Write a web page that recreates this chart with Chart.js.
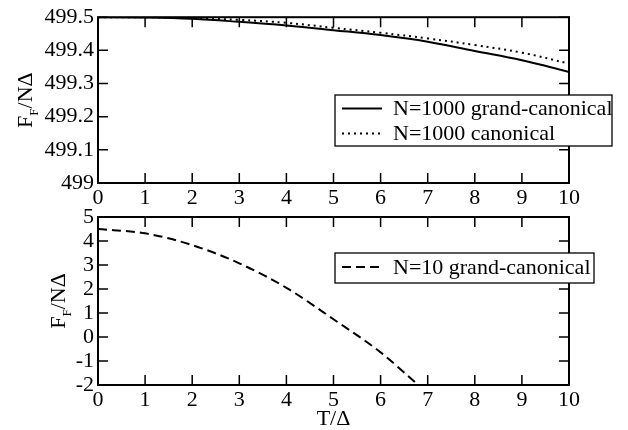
<!DOCTYPE html>
<html lang="en">
<head>
<meta charset="UTF-8">
<title>Free energy per particle</title>
<style>
    body {
        margin: 0;
        background: #fff;
    }
    .wrap {
        position: relative;
        width: 628px;
        height: 430px;
        overflow: hidden;
    }
    canvas {
        position: absolute;
        left: 0;
    }
    #topChart { top: 0; }
    #bottomChart { top: 195px; }
</style>
<script src="https://cdn.jsdelivr.net/npm/chart.js"></script>
</head>
<body>
<div class="wrap">
    <canvas id="topChart" width="628" height="215"></canvas>
    <canvas id="bottomChart" width="628" height="235"></canvas>
</div>
<script>
// values
const temps = [0, 1, 2, 3, 4, 5, 6, 7, 8, 9, 10];
const grandCanonical1000 = [499.5, 499.499, 499.495, 499.486, 499.475, 499.461, 499.446, 499.426, 499.398, 499.37, 499.335];
const canonical1000 = [499.5, 499.5, 499.497, 499.492, 499.483, 499.468, 499.453, 499.436, 499.416, 499.393, 499.36];
const tempsN10 = [0, 1, 2, 3, 4, 5, 6, 6.8];
const grandCanonical10 = [4.5, 4.32, 3.83, 3.07, 2.05, 0.74, -0.64, -2.0];

const labelsTop = ['N=1000 grand-canonical', 'N=1000 canonical'];
const labelsBottom = ['N=10 grand-canonical'];
const xTitle = 'T/\u0394';

const FONT = "'Liberation Serif', 'Times New Roman', serif";

function pairs(xs, ys) {
    return xs.map((x, i) => ({x: x, y: ys[i]}));
}

function fmt(v) {
    return String(Number(v.toFixed(1)));
}

// frame, inward ticks, legend box and the y title with its subscript
const decorPlugin = {
    id: 'decor',
    afterDatasetsDraw(chart, args, opts) {
        const ctx = chart.ctx;
        const a = chart.chartArea;
        const xs = chart.scales.x;
        const ys = chart.scales.y;
        ctx.save();
        ctx.strokeStyle = '#000';
        ctx.lineWidth = 1.5;
        ctx.setLineDash([]);
        ctx.beginPath();
        xs.ticks.forEach(t => {
            const px = xs.getPixelForValue(t.value);
            ctx.moveTo(px, a.bottom); ctx.lineTo(px, a.bottom - 10);
            ctx.moveTo(px, a.top); ctx.lineTo(px, a.top + 10);
        });
        ys.ticks.forEach(t => {
            const py = ys.getPixelForValue(t.value);
            ctx.moveTo(a.left, py); ctx.lineTo(a.left + 10, py);
            ctx.moveTo(a.right, py); ctx.lineTo(a.right - 10, py);
        });
        ctx.stroke();
        ctx.lineWidth = 2;
        ctx.strokeRect(a.left, a.top, a.right - a.left, a.bottom - a.top);

        // legend
        const b = opts.box;
        ctx.fillStyle = '#fff';
        ctx.fillRect(b[0], b[1], b[2], b[3]);
        ctx.lineWidth = 1.3;
        ctx.strokeRect(b[0], b[1], b[2], b[3]);
        ctx.font = '22px ' + FONT;
        ctx.fillStyle = '#000';
        ctx.textBaseline = 'alphabetic';
        ctx.textAlign = 'left';
        chart.data.datasets.forEach((ds, i) => {
            const ly = opts.rows[i];
            ctx.lineWidth = ds.borderWidth;
            ctx.setLineDash(ds.borderDash || []);
            ctx.beginPath();
            ctx.moveTo(b[0] + 7, ly - 6.5);
            ctx.lineTo(b[0] + 47, ly - 6.5);
            ctx.stroke();
            ctx.fillText(ds.label, b[0] + 58, ly);
        });
        ctx.setLineDash([]);

        // y title: F with subscript F, then /NΔ
        ctx.translate(opts.titleX, (a.top + a.bottom) / 2);
        ctx.rotate(-Math.PI / 2);
        ctx.font = '22px ' + FONT;
        const wBig = ctx.measureText('F').width;
        const wRest = ctx.measureText('/N\u0394').width;
        ctx.font = '13px ' + FONT;
        const wSub = ctx.measureText('F').width;
        let cx = -(wBig + wSub + wRest) / 2;
        ctx.font = '22px ' + FONT;
        ctx.fillText('F', cx, 0);
        cx += wBig;
        ctx.font = '13px ' + FONT;
        ctx.fillText('F', cx, 6);
        cx += wSub;
        ctx.font = '22px ' + FONT;
        ctx.fillText('/N\u0394', cx, 0);
        ctx.restore();
    }
};

function makeOptions(yMin, yMax, yStep, xHeight, padTop, decor, withTitle) {
    return {
        responsive: false,
        animation: false,
        layout: { padding: { top: padTop, right: 59, left: 0, bottom: 0 } },
        plugins: {
            legend: { display: false },
            tooltip: { enabled: false },
            decor: decor
        },
        scales: {
            x: {
                type: 'linear',
                min: 0,
                max: 10,
                grid: { display: false, drawTicks: false },
                border: { display: false },
                ticks: {
                    stepSize: 1,
                    color: '#000',
                    padding: 2,
                    maxRotation: 0,
                    font: { family: FONT, size: 22 },
                    callback: v => fmt(v)
                },
                title: {
                    display: withTitle,
                    text: xTitle,
                    color: '#000',
                    padding: { top: 0, bottom: -2 },
                    font: { family: FONT, size: 22 }
                },
                afterFit: s => { s.height = xHeight; }
            },
            y: {
                type: 'linear',
                min: yMin,
                max: yMax,
                grid: { display: false, drawTicks: false },
                border: { display: false },
                ticks: {
                    stepSize: yStep,
                    color: '#000',
                    padding: 4,
                    autoSkip: false,
                    font: { family: FONT, size: 22 },
                    callback: v => fmt(v)
                },
                afterFit: s => { s.width = 98; }
            }
        }
    };
}

new Chart(document.getElementById('topChart'), {
    type: 'line',
    data: {
        datasets: [{
            label: labelsTop[0],
            data: pairs(temps, grandCanonical1000),
            borderColor: '#000',
            borderWidth: 2,
            pointRadius: 0,
            tension: 0.4
        }, {
            label: labelsTop[1],
            data: pairs(temps, canonical1000),
            borderColor: '#000',
            borderWidth: 2,
            borderDash: [2, 4],
            pointRadius: 0,
            tension: 0.4
        }]
    },
    options: makeOptions(499, 499.5, 0.1, 32, 16,
        { box: [335, 95, 277, 51], rows: [115, 140], titleX: 32 }, false),
    plugins: [decorPlugin]
});

new Chart(document.getElementById('bottomChart'), {
    type: 'line',
    data: {
        datasets: [{
            label: labelsBottom[0],
            data: pairs(tempsN10, grandCanonical10),
            borderColor: '#000',
            borderWidth: 2,
            borderDash: [9, 5],
            pointRadius: 0,
            cubicInterpolationMode: 'monotone'
        }]
    },
    options: makeOptions(-2, 5, 1, 45, 22,
        { box: [335, 58, 259, 30], rows: [78.5], titleX: 65 }, true),
    plugins: [decorPlugin]
});
</script>
</body>
</html>
